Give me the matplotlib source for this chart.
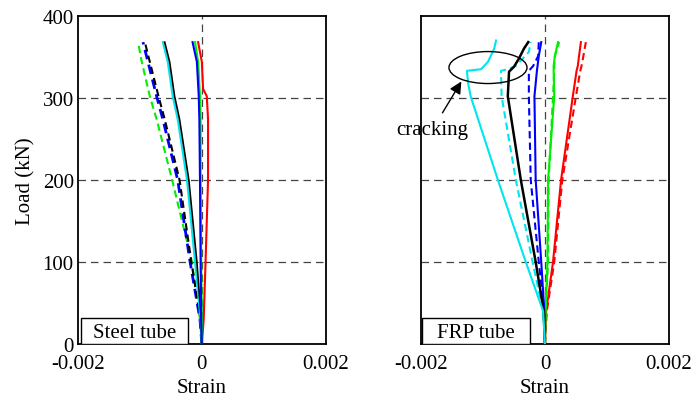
"""Load-strain curves for the steel-tube and FRP-tube columns (two panels)."""

import matplotlib
matplotlib.use("Agg")
import matplotlib.pyplot as plt
from matplotlib.patches import Ellipse, Rectangle

plt.rcParams["font.family"] = ["Liberation Serif", "DejaVu Serif"]
plt.rcParams["font.size"] = 15

# --- steel tube (left panel): strain values, load levels in kN ---------------
steel_load = [0, 30, 100, 200, 274, 302, 344, 368]
steel_green_dash = [0, -0.00003, -0.00016, -0.00048, -0.00073, -0.00084, -0.00097, -0.00103]
steel_blue_dash = [0, -0.00003, -0.00019, -0.00039, -0.00063, -0.00073, -0.00087, -0.00095]
steel_black_dash = [0, -0.00002, -0.00017, -0.00036, -0.00060, -0.00070, -0.00084, -0.00092]
steel_cyan = [0, -0.00002, -0.00011, -0.00024, -0.00039, -0.00047, -0.00055, -0.00063]
steel_black = [0, -0.00001, -0.00008, -0.00021, -0.00036, -0.00044, -0.00052, -0.00060]
steel_blue = [0, -0.00001, -0.00002, -0.00003, -0.00004, -0.00005, -0.00008, -0.00015]
steel_green = [0, 0.0, -0.00001, -0.00002, -0.00002, -0.00003, -0.00006, -0.00011]
steel_red_load = [0, 30, 100, 200, 274, 302, 311, 344, 368]
steel_red = [0, 0.00003, 0.00006, 0.00010, 0.00010, 0.00008, 0.00002, 0.0, -0.00006]

# --- FRP tube (right panel) ---------------------------------------------------
frp_cyan_load = [0, 40, 100, 200, 302, 318, 333, 335, 344, 360, 370]
frp_cyan = [0, -0.00003, -0.00031, -0.00076, -0.00120, -0.00124, -0.00126,
            -0.00103, -0.00092, -0.00082, -0.00079]
frp_cyan_dash_load = [0, 40, 100, 200, 302, 333, 335, 339, 356, 368]
frp_cyan_dash = [0, -0.00003, -0.00020, -0.00047, -0.00070, -0.00071,
                 -0.00060, -0.00047, -0.00026, -0.00023]
frp_black_load = [0, 40, 100, 200, 302, 332, 338, 348, 360, 368]
frp_black = [0, -0.00002, -0.00015, -0.00039, -0.00060, -0.00058,
             -0.00050, -0.00042, -0.00034, -0.00027]
frp_load = [0, 40, 100, 200, 302, 333, 339, 351, 368]
frp_blue_dash = [0, -0.00001, -0.00010, -0.00023, -0.00026, -0.00026,
                 -0.00019, -0.00011, -0.00010]
frp_blue = [0, -0.00001, -0.00006, -0.00015, -0.00017, -0.00013,
            -0.00012, -0.00010, -0.00006]
frp_green_dash = [0, 0.00001, 0.00005, 0.00006, 0.00013, 0.00015,
                  0.00015, 0.00016, 0.00023]
frp_green = [0, 0.00001, 0.00004, 0.00005, 0.00015, 0.00014,
             0.00014, 0.00016, 0.00021]
frp_red_dash = [0, 0.00003, 0.00015, 0.00028, 0.00050, 0.00057,
                0.00059, 0.00062, 0.00066]
frp_red = [0, 0.00002, 0.00013, 0.00026, 0.00045, 0.00051,
           0.00053, 0.00055, 0.00058]

x_ticks = [-0.002, 0, 0.002]
x_labels = ["-0.002", "0", "0.002"]
y_ticks = [0, 100, 200, 300, 400]

DASH = (0, (3.5, 2))
GRID = dict(color="#444444", lw=0.9, ls=(0, (6, 4)), zorder=1)


def style(ax, panel_label, box_x0, box_x1):
    ax.set_xlim(-0.002, 0.002)
    ax.set_ylim(0, 400)
    ax.set_xticks(x_ticks)
    ax.set_xticklabels(x_labels)
    ax.set_yticks(y_ticks)
    ax.tick_params(axis="x", length=0, pad=7)
    ax.tick_params(axis="y", length=0, pad=3)
    for s in ax.spines.values():
        s.set_linewidth(1.3)
    for y in (100, 200, 300):
        ax.axhline(y, **GRID)
    ax.axvline(0, **GRID)
    ax.set_xlabel("Strain", labelpad=4)
    ax.add_patch(Rectangle((box_x0, 0.0), box_x1 - box_x0, 0.079,
                           transform=ax.transAxes, fill=True, fc="white",
                           ec="black", lw=1.0, zorder=5))
    ax.text((box_x0 + box_x1) / 2, 0.036, panel_label, transform=ax.transAxes,
            ha="center", va="center", zorder=6)


fig = plt.figure(figsize=(6.96, 4.02), dpi=100)
ax1 = fig.add_axes([0.112, 0.142, 0.356, 0.816])
ax2 = fig.add_axes([0.605, 0.142, 0.356, 0.816])

lw = 1.5
ax1.plot(steel_green_dash, steel_load, color="#00ee00", ls=DASH, lw=lw, zorder=3)
ax1.plot(steel_blue_dash, steel_load, color="#0000ff", ls=DASH, lw=lw + 0.5, zorder=3)
ax1.plot(steel_black_dash, steel_load, color="black", ls=DASH, lw=lw, zorder=3)
ax1.plot(steel_cyan, steel_load, color="#00e5ee", lw=lw, zorder=3)
ax1.plot(steel_black, steel_load, color="black", lw=lw - 0.3, zorder=3)
ax1.plot(steel_red, steel_red_load, color="#ff0000", lw=lw, zorder=3)
ax1.plot(steel_green, steel_load, color="#00ee00", lw=lw, zorder=3)
ax1.plot(steel_blue, steel_load, color="#0000ff", lw=lw, zorder=3)
ax1.set_ylabel("Load (kN)", labelpad=5)
style(ax1, "Steel tube", 0.012, 0.444)

ax2.plot(frp_red_dash, frp_load, color="#ff0000", ls=DASH, lw=lw, zorder=3)
ax2.plot(frp_red, frp_load, color="#ff0000", lw=lw, zorder=3)
ax2.plot(frp_green_dash, frp_load, color="#00ee00", ls=DASH, lw=lw, zorder=3)
ax2.plot(frp_green, frp_load, color="#00ee00", lw=lw, zorder=3)
ax2.plot(frp_blue_dash, frp_load, color="#0000ff", ls=DASH, lw=lw, zorder=3)
ax2.plot(frp_blue, frp_load, color="#0000ff", lw=lw, zorder=3)
ax2.plot(frp_cyan_dash, frp_cyan_dash_load, color="#00e5ee", ls=DASH, lw=lw, zorder=3)
ax2.plot(frp_black, frp_black_load, color="black", lw=lw + 0.3, zorder=3)
ax2.plot(frp_cyan, frp_cyan_load, color="#00e5ee", lw=lw, zorder=3)
ax2.set_yticklabels([])
style(ax2, "FRP tube", 0.004, 0.44)

ax2.add_patch(Ellipse((-0.00092, 337), 0.00126, 39, fill=False, ec="black",
                      lw=1.0, zorder=4))
ax2.annotate("cracking", xy=(-0.00135, 320), xytext=(-0.00182, 261),
             ha="center", va="center",
             arrowprops=dict(arrowstyle="-|>", color="black", lw=1.0,
                             mutation_scale=18, shrinkA=4, shrinkB=0))

fig.savefig("out.png", dpi=100)
